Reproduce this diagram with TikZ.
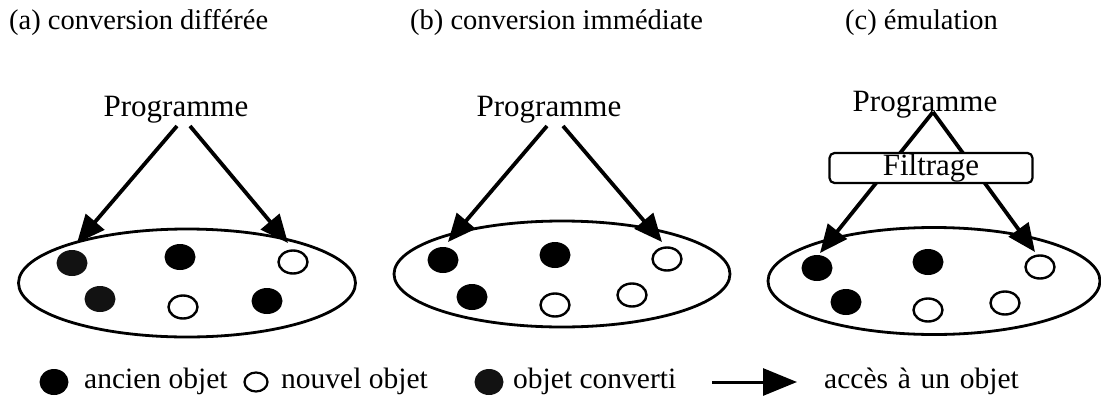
\documentclass[tikz,border=0pt]{standalone}
\usepackage{fontspec}
\setmainfont{Liberation Serif}
\usetikzlibrary{arrows.meta,shapes.geometric}
\begin{document}
\begin{tikzpicture}[x=1pt,y=-1pt,
  txt/.style={font=\fontsize{28.5}{30}\selectfont, inner sep=0pt},
  bigtxt/.style={font=\fontsize{31}{33}\selectfont, inner sep=0pt},
  legtxt/.style={font=\fontsize{29.5}{32}\selectfont, inner sep=0pt},
  setshape/.style={ellipse, draw, line width=2.8pt, inner sep=0pt},
  olddot/.style={ellipse, fill=black, minimum width=31pt, minimum height=26pt, inner sep=0pt},
  convdot/.style={olddot, fill=black!93},
  newdot/.style={ellipse, draw, line width=2.4pt, fill=white, minimum width=29pt, minimum height=23pt, inner sep=0pt},
  access/.style={-{Triangle[length=28pt,width=24pt]}, line width=3.8pt},
  legaccess/.style={-{Triangle[length=34pt,width=27pt]}, line width=3pt},
  filterbox/.style={draw, line width=2.2pt, rounded corners=5pt, fill=white, minimum width=203pt, minimum height=30pt, inner sep=0pt, font=\fontsize{31}{33}\selectfont}
]
\useasboundingbox (0,0) rectangle (1101,402);

% titles
\node[txt, anchor=base west] (ta) at (9,29) {(a) conversion différée};
\node[txt, anchor=base west] (tb) at (410,29) {(b) conversion immédiate};
\node[txt, anchor=base west] (tc) at (845,29) {(c) émulation};

% ---------- panel a
\node[setshape, minimum width=337pt, minimum height=108pt] (ea) at (187,283) {};
\node[convdot] (a1) at (72,263) {};
\node[olddot] (a2) at (180,257) {};
\node[newdot] (a3) at (293,262) {};
\node[convdot] (a4) at (100,299) {};
\node[newdot] (a5) at (183,307) {};
\node[olddot] (a6) at (267,301) {};
\node[bigtxt] (pa) at (176,110) {Programme};
\coordinate (pal) at (177,126);
\coordinate (par) at (190,126);
\coordinate (ial) at (77,243);
\coordinate (iar) at (288,243);
\draw[access] (pal) -- (ial);
\draw[access] (par) -- (iar);

% ---------- panel b
\node[setshape, minimum width=336pt, minimum height=106pt] (eb) at (562,274) {};
\node[olddot] (b1) at (443,260) {};
\node[olddot] (b2) at (555,255) {};
\node[newdot] (b3) at (667,259) {};
\node[olddot] (b4) at (472,297) {};
\node[newdot] (b5) at (555,305) {};
\node[newdot] (b6) at (632,295) {};
\node[bigtxt] (pb) at (549,110) {Programme};
\coordinate (pbl) at (547,126);
\coordinate (pbr) at (563,126);
\coordinate (ibl) at (448,242);
\coordinate (ibr) at (662,242);
\draw[access] (pbl) -- (ibl);
\draw[access] (pbr) -- (ibr);

% ---------- panel c
\node[setshape, minimum width=332pt, minimum height=107pt] (ec) at (934,281) {};
\node[olddot] (c1) at (817,268) {};
\node[olddot] (c2) at (928,262) {};
\node[newdot] (c3) at (1040,267) {};
\node[olddot] (c4) at (846,302) {};
\node[newdot] (c5) at (928,310) {};
\node[newdot] (c6) at (1005,303) {};
\node[bigtxt] (pc) at (925,105) {Programme};
\coordinate (apex) at (933,112);
\coordinate (icl) at (820,253);
\coordinate (icr) at (1035,252);
\draw[access] (apex) -- (icl);
\draw[access] (apex) -- (icr);
\node[filterbox] (filt) at (931,168) {Filtrage};

% ---------- legend
\node[olddot, minimum width=29pt, minimum height=26pt] (l1) at (54,382) {};
\node[legtxt, anchor=west] (lt1) at (84,381) {ancien objet};
\node[newdot, minimum width=23pt, minimum height=19pt, line width=2.2pt] (l2) at (256,382) {};
\node[legtxt, anchor=west] (lt2) at (281,381) {nouvel objet};
\node[convdot, minimum width=29pt, minimum height=26pt] (l3) at (489,382) {};
\node[legtxt, anchor=west] (lt3) at (513,381) {objet converti};
\coordinate (la1) at (712,382);
\coordinate (la2) at (797,382);
\draw[legaccess] (la1) -- (la2);
\node[legtxt, anchor=west] (lt4) at (824,381) {accès\hspace{0.33em}à\hspace{0.33em}un\hspace{0.33em}objet};
\end{tikzpicture}
\end{document}
